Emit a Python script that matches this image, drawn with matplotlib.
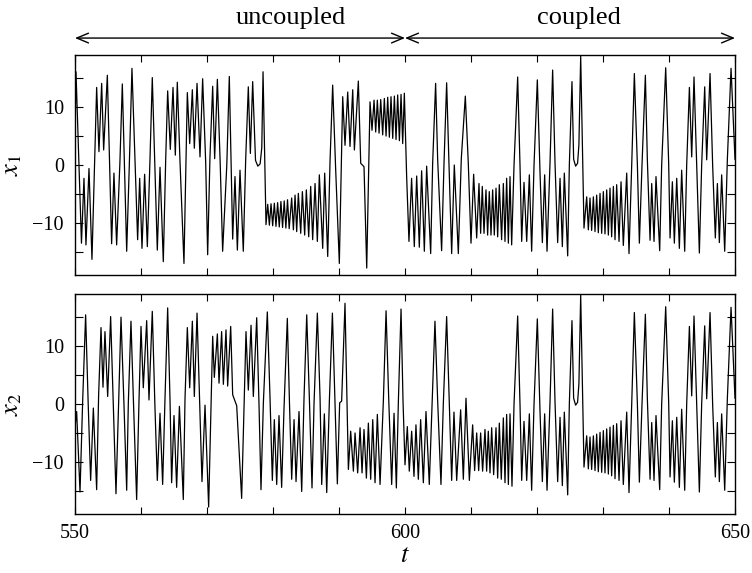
import matplotlib.pyplot as plt

plt.rcParams['font.family'] = ['Liberation Serif', 'DejaVu Serif']
plt.rcParams['mathtext.fontset'] = 'stix'
plt.rcParams['axes.linewidth'] = 1.0

# turning points: x1 before synchronisation
x1_t = [550.0, 550.15, 550.98, 551.36, 551.66, 552.12, 552.57, 553.0, 553.28, 553.63,
        554.04, 554.34, 554.9, 555.55, 555.9, 556.31, 556.8, 557.17, 557.83, 558.23,
        558.63, 559.49, 559.8, 560.15, 560.55, 560.96, 561.36, 561.71, 562.47, 562.88,
        563.38, 563.74, 564.04, 564.44, 564.85, 565.2, 565.5, 565.91, 566.51, 567.02,
        567.38, 567.78, 568.08, 568.49, 568.94, 569.34, 569.8, 570.1, 570.45, 570.86,
        571.16, 571.57, 572.0, 572.37, 573.0, 573.38, 573.89, 574.24, 574.6, 575.0,
        575.5, 575.86, 576.26, 576.57, 576.92, 577.35, 577.7, 578.05, 578.3, 578.49, 578.94,
        579.2, 579.45, 579.7, 579.95, 580.2, 580.45, 580.7, 580.95, 581.2, 581.45,
        581.7, 581.95, 582.2, 582.45, 582.83, 583.09, 583.34, 583.59, 583.84, 584.2,
        584.45, 584.8, 585.05, 585.41, 585.71, 586.01, 586.37, 586.72, 587.02, 587.53,
        587.83, 588.29, 588.64, 589.04, 589.5, 590.05, 590.56, 590.91, 591.32, 591.67,
        592.08, 592.33, 592.93, 593.29, 593.79, 594.2, 594.7, 595.0, 595.31, 595.56,
        595.81, 596.07, 596.32, 596.62, 596.87, 597.13, 597.38, 597.63, 597.88, 598.14,
        598.39, 598.64, 598.89, 599.15, 599.4, 599.65, 599.9, 600.25, 600.6, 601.0,
        601.41, 601.77, 602.17, 602.52, 602.93, 603.28, 603.89, 604.19, 604.64, 604.95,
        605.55, 605.91, 606.31, 606.66, 607.07, 607.47, 608.08, 608.53, 609.14, 609.59,
        610.0, 610.4, 610.86, 611.21, 611.46, 611.71, 611.97, 612.27, 612.52, 612.77,
        613.03, 613.28, 613.53, 613.79, 614.04, 614.29, 614.64, 614.9, 615.15, 615.4,
        615.66, 615.91, 616.16]
x1_v = [4.0, 16.1, -13.5, -2.3, -13.8, -0.6, -16.3, 1.4, 13.4, 2.3,
        14.1, 2.6, 15.5, -13.6, -1.4, -13.8, 0.3, 14.0, -14.9, 0.0,
        16.7, -12.9, -2.3, -14.4, -1.6, -14.1, 0.9, 15.1, -14.7, -0.4,
        -16.7, 0.9, 12.8, 2.7, 13.4, 1.7, 14.3, 0.6, -17.0, 12.5,
        3.7, 13.0, 2.9, 14.1, 1.4, 14.9, 0.5, -15.5, 1.4, 13.6,
        1.1, 14.8, 0.3, -14.9, 0.0, 15.3, -12.8, -2.0, -14.7, -0.9,
        -14.9, 0.9, 13.5, 2.0, 14.4, 0.8, -0.2, 0.2, 3.0, 16.1, -10.3,
        -6.8, -10.4, -6.7, -10.5, -6.6, -10.6, -6.5, -10.7, -6.3, -10.8,
        -6.2, -10.9, -6.0, -11.0, -5.7, -11.2, -5.2, -11.5, -4.9, -11.8,
        -4.6, -12.1, -4.3, -12.4, -3.7, -12.9, -3.2, -13.2, -1.7, -14.4,
        -1.4, -15.8, 0.6, 13.8, -0.9, -17.0, 11.8, 3.4, 12.6, 3.2,
        13.0, 2.6, 14.5, 0.3, -0.3, -17.8, 10.9, 6.0, 11.2, 5.7,
        11.2, 5.5, 11.3, 5.2, 11.5, 5.0, 11.7, 4.8, 11.8, 4.6,
        11.9, 4.4, 12.1, 4.2, 12.2, 3.7, 12.4, -2.0, -13.2, -2.3,
        -14.1, -1.9, -14.2, -1.0, -14.9, -0.2, -15.3, 0.3, 14.1, 0.9,
        -14.8, 0.3, 14.2, 0.3, -15.3, 0.0, -15.3, 1.1, 11.9, 0.3,
        -13.5, -1.6, -12.6, -3.2, -11.8, -3.7, -11.8, -4.3, -12.1, -4.6,
        -12.1, -4.3, -12.1, -4.0, -12.4, -3.4, -12.9, -3.2, -13.2, -2.3,
        -13.5, -2.0, -13.8]

# x2 before synchronisation
x2_t = [550.0, 550.25, 550.76, 551.16, 551.61, 552.0, 552.37, 552.78, 553.28, 553.58,
        553.94, 554.24, 554.54, 554.95, 555.4, 555.8, 556.21, 556.61, 556.97, 557.42,
        557.83, 558.08, 558.48, 558.84, 559.34, 559.7, 560.0, 560.35, 560.86, 561.21,
        561.71, 562.1, 562.47, 562.88, 563.28, 563.63, 564.04, 564.4, 564.64, 565.0,
        565.4, 565.82, 566.41, 566.67, 567.02, 567.38, 567.78, 568.08, 568.49, 568.9,
        569.24, 569.7, 570.25, 570.86, 571.11, 571.57, 571.82, 572.22, 572.48, 572.88,
        573.13, 573.59, 573.89, 574.5, 575.25, 575.65, 575.91, 576.26, 576.67, 577.02,
        577.53, 577.88, 578.18, 578.54, 579.14, 579.55, 579.9, 580.2, 580.56, 580.91,
        581.31, 581.67, 582.17, 582.5, 582.83, 583.19, 583.49, 583.94, 584.35, 584.7,
        585.11, 585.51, 585.91, 586.22, 586.72, 587.13, 587.38, 587.78, 588.14, 588.54,
        589.0, 589.4, 589.75, 590.1, 590.4, 590.91, 591.42, 591.77, 592.18, 592.43,
        592.83, 593.19, 593.49, 593.79, 594.15, 594.45, 594.8, 595.11, 595.46, 595.81,
        596.22, 596.72, 597.13, 597.53, 597.98, 598.34, 598.69, 598.99, 599.4, 599.7,
        600.0, 600.35, 600.65, 601.01, 601.36, 601.66, 602.02, 602.37, 602.78, 603.18,
        603.68, 604.14, 604.54, 604.95, 605.45, 605.81, 606.31, 606.71, 607.07, 607.42,
        607.83, 608.43, 608.84, 609.24, 609.75, 610.25, 610.55, 610.86, 611.16, 611.46,
        611.76, 612.12, 612.37, 612.62, 612.88, 613.13, 613.43, 613.79, 614.04, 614.29,
        614.59, 614.9, 615.15, 615.4, 615.66, 615.91, 616.21]
x2_v = [-4.0, -1.3, -15.2, 0.5, 15.4, 0.0, -13.2, -0.7, -14.8, 1.6,
        13.2, 2.9, 12.5, 1.3, 15.1, -0.3, -15.5, 0.2, 15.0, -0.1,
        -14.9, 0.2, 14.3, 1.0, -16.5, 0.7, 13.4, 2.8, 14.4, 0.7,
        16.0, 0.0, -13.2, -1.6, -13.9, 0.7, 16.6, 0.5, -13.6, -2.0,
        -14.4, -0.4, -16.5, 1.0, 13.2, 2.8, 14.3, 1.3, 15.7, 0.0,
        -13.4, -0.2, -17.8, 11.7, 4.6, 12.1, 3.6, 12.5, 3.4, 12.8,
        3.1, 13.4, 1.6, -0.3, -16.3, 1.6, 12.5, 2.4, 13.6, 1.3,
        14.9, -0.1, -14.8, 0.2, 15.9, 1.0, -13.2, -2.7, -13.9, -2.0,
        -14.4, -0.7, 14.8, 0.0, -13.0, -2.7, -13.4, -1.3, -15.1, 1.0,
        15.4, 1.0, -14.5, 0.2, 15.7, 1.0, -13.9, -1.7, -15.3, 0.5,
        15.7, 0.2, -13.8, 0.2, 0.5, 17.4, -11.3, -4.7, -11.6, -5.0,
        -11.9, -4.1, -11.9, -4.4, -12.8, -3.3, -13.0, -2.7, -13.6, -1.8,
        -13.9, 0.5, 16.1, 1.0, -13.9, -1.6, -14.5, 0.2, 16.4, 0.5,
        -10.5, -3.9, -11.6, -4.7, -12.5, -3.6, -13.0, -2.7, -13.6, -1.3,
        -13.9, 1.3, 14.3, 0.5, -13.9, 0.2, 15.1, 0.5, -13.2, -1.4,
        -13.2, -1.0, -13.0, 1.0, -13.2, -3.6, -11.5, -5.0, -11.5, -5.0,
        -11.6, -4.4, -11.6, -4.7, -11.9, -4.1, -12.2, -4.1, -12.8, -3.3,
        -13.0, -2.4, -13.6, -1.8, -13.9, -1.7, -14.2]

# after ~616 both traces coincide
sync_t = [616.52, 617.07, 617.43, 617.68, 618.03, 618.44, 618.84, 619.19, 619.55, 620.05,
          620.46, 620.81, 621.16, 621.52, 621.97, 622.37, 622.73, 623.13, 623.49, 623.84,
          624.14, 624.65, 624.9, 625.3, 625.55, 625.85, 626.15, 626.35, 626.62, 627.12,
          627.53, 627.78, 628.03, 628.28, 628.54, 628.79, 629.04, 629.29, 629.55, 629.8,
          630.05, 630.3, 630.56, 630.81, 631.06, 631.31, 631.57, 631.82, 632.07, 632.43,
          632.73, 633.08, 633.59, 633.94, 634.35, 634.75, 635.21, 635.51, 635.91, 636.42,
          636.72, 637.13, 637.38, 637.73, 638.03, 638.59, 638.89, 639.5, 639.95, 640.16,
          640.51, 640.81, 641.17, 641.57, 641.92, 642.38, 642.68, 643.09, 643.44, 643.79,
          644.2, 644.6, 644.95, 645.41, 645.71, 646.22, 646.62, 647.02, 647.33, 647.63,
          647.98, 648.44, 648.84, 649.4, 650.0]
sync_v = [0.0, 15.2, -0.3, -13.2, -3.0, -13.2, -1.7, -14.9, 0.0, 14.7,
          -1.4, -13.4, -1.7, -14.9, 0.3, 16.4, 0.3, -13.4, -2.3, -14.1,
          -1.4, -15.7, 0.0, 14.4, 1.0, -0.2, 0.3, 3.5, 18.8, -10.9,
          -5.5, -11.2, -5.7, -11.3, -5.5, -11.5, -5.2, -11.7, -4.9, -11.8,
          -4.6, -11.9, -4.3, -12.1, -4.0, -12.4, -3.7, -12.9, -3.4, -13.2,
          -2.9, -13.9, -1.4, -15.3, 0.0, 15.8, 0.0, -13.5, 0.0, 15.5,
          0.9, -13.0, -3.2, -13.2, -2.0, -14.8, 0.0, 16.8, 0.3, -12.6,
          -2.9, -13.5, -2.3, -14.4, -0.9, -14.9, 0.0, 13.4, 1.4, 15.2,
          0.0, -15.2, 0.0, 13.5, 0.9, 15.8, -0.3, -12.6, -3.2, -13.4,
          -1.7, -14.9, 0.9, 16.7, 1.0]

xticks = list(range(550, 651, 10))
xtick_labels = ['550', '', '', '', '', '600', '', '', '', '', '650']
yticks = [-15, -10, -5, 0, 5, 10, 15]
ytick_labels = ['', '\u221210', '', '0', '', '10', '']

# regime spans and where their names sit
regimes = [(550, 600, 'uncoupled', 582.7), (600, 650, 'coupled', 626.4)]

fig = plt.figure(figsize=(7.52, 5.73), dpi=100)
ax1 = fig.add_axes([75/752, 1 - 275/573, 660/752, 220/573])
ax2 = fig.add_axes([75/752, 1 - 514/573, 660/752, 220/573])

for ax, t, v, lab in [(ax1, x1_t + sync_t, x1_v + sync_v, '$x_1$'),
                      (ax2, x2_t + sync_t, x2_v + sync_v, '$x_2$')]:
    ax.plot(t, v, color='black', lw=0.9)
    ax.set_xlim(550, 650)
    ax.set_ylim(-19, 19)
    ax.set_xticks(xticks)
    ax.set_xticklabels(xtick_labels)
    ax.set_yticks(yticks)
    ax.set_yticklabels(ytick_labels)
    ax.tick_params(direction='in', top=True, right=True, labelsize=14.5, width=0.8)
    ax.tick_params(axis='y', length=6, pad=8)
    ax.tick_params(axis='x', length=5, pad=7)
    ax.set_ylabel(lab, fontsize=19, labelpad=6)

ax1.tick_params(labelbottom=False)
ax2.set_xlabel('$t$', fontsize=19, labelpad=2)

# regime arrows above the top panel
tr = ax1.get_xaxis_transform()
for a, b, name, tc in regimes:
    ax1.annotate('', xy=(a, 1.077), xytext=(b, 1.077), xycoords=tr, textcoords=tr,
                 annotation_clip=False,
                 arrowprops=dict(arrowstyle='<->,head_length=0.6,head_width=0.25',
                                 color='black', lw=1.0, shrinkA=0, shrinkB=0,
                                 mutation_scale=14))
    ax1.text(tc, 1.17, name, transform=tr, ha='center', va='center', fontsize=19)

fig.savefig('out.png', dpi=100)
